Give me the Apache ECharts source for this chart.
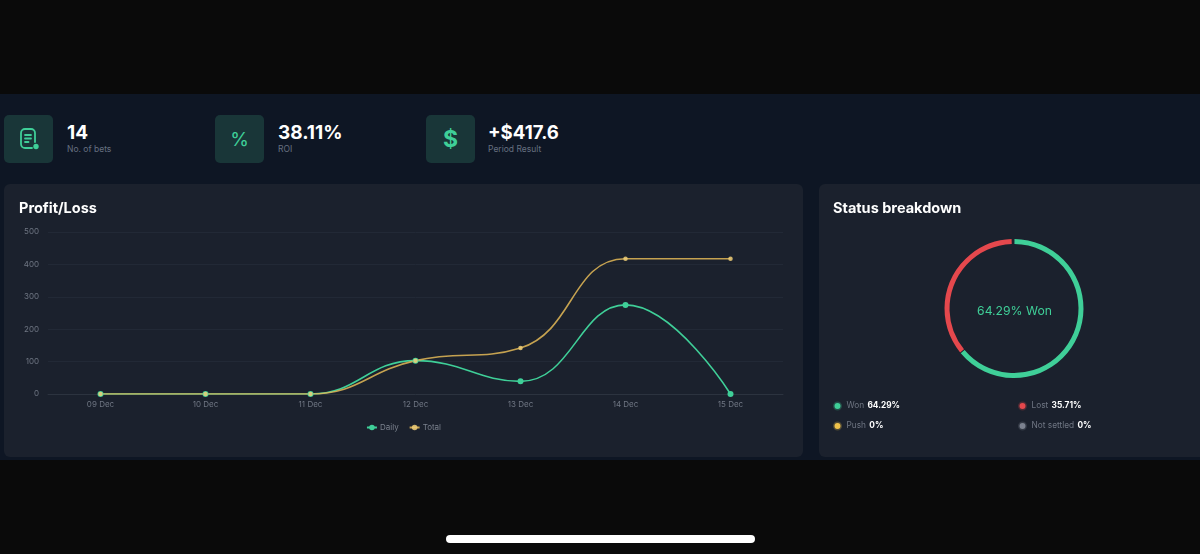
<!DOCTYPE html>
<html>
<head>
<meta charset="utf-8">
<title>Profit/Loss</title>
<script src="https://cdn.jsdelivr.net/npm/echarts@6/dist/echarts.min.js"></script>
<style>
html, body { margin: 0; padding: 0; width: 1200px; height: 554px; overflow: hidden; background: #0a0a0a; font-family: Inter, "Noto Sans", sans-serif; }
.band { position: absolute; left: 0; top: 94px; width: 1200px; height: 366px; background: #0e1624; }
.card { position: absolute; top: 184px; height: 273px; background: #1b212d; border-radius: 6px; }
.card h2 { position: absolute; left: 15px; top: 14px; margin: 0; font-size: 14.5px; line-height: 20px; font-weight: 700; color: #fff; z-index: 2; }
.chart { position: absolute; left: 0; top: 0; width: 100%; height: 100%; }
.tile { position: absolute; top: 115px; width: 49px; height: 48px; background: #193638; border-radius: 5px; color: #3fcf98; display: flex; align-items: center; justify-content: center; }
.kpi { position: absolute; top: 122px; color: #fff; font-weight: 700; font-size: 19px; line-height: 21px; }
.kpi small { display: block; font-weight: 400; font-size: 8.5px; line-height: 11px; margin-top: 0.5px; color: #667080; }
.home { position: absolute; left: 446px; top: 535px; width: 309px; height: 8px; border-radius: 4px; background: #fff; }
</style>
</head>
<body>
<div class="band"></div>

<div class="tile" style="left:4px">
  <svg width="22" height="24" viewBox="0 0 22 24" fill="none" stroke="#3fcf98" stroke-width="1.8" stroke-linecap="round">
    <path d="M14 21H7a4 4 0 0 1-4-4V6a4 4 0 0 1 4-4h6a4 4 0 0 1 4 4v9"/>
    <path d="M7 8h6M7 11.500h6M7 15h3.500"/>
    <circle cx="18" cy="19.500" r="2.700" fill="#3fcf98" stroke="none"/>
  </svg>
</div>
<div class="kpi" style="left:67px">14<small>No. of bets</small></div>

<div class="tile" style="left:215px;font-size:19px;font-weight:400">%</div>
<div class="kpi" style="left:278px">38.11%<small>ROI</small></div>

<div class="tile" style="left:426px;font-size:23px;font-weight:700">$</div>
<div class="kpi" style="left:488px;font-size:18.6px">+$417.6<small>Period Result</small></div>

<div class="card" style="left:4px;width:799px"><h2>Profit/Loss</h2><div id="lineChart" class="chart"></div></div>
<div class="card" style="left:819px;width:381px;border-radius:6px 0 0 6px"><h2 style="left:14px">Status breakdown</h2><div id="pieChart" class="chart"></div></div>
<div class="home"></div>

<script>
var days = ['09 Dec', '10 Dec', '11 Dec', '12 Dec', '13 Dec', '14 Dec', '15 Dec'];
var daily = [0, 0, 0, 103, 39, 275, 0];
var total = [0, 0, 0, 103, 142, 417.6, 417.6];

var statusNames = ['Won', 'Lost', 'Push', 'Not settled'];
var statusValues = [64.29, 35.71, 0, 0];
var statusColors = ['#3fcf98', '#e5484d', '#f0c24b', '#7c8290'];
var statusHalos = ['rgba(63,207,152,0.25)', 'rgba(229,72,77,0.25)', 'rgba(240,194,75,0.25)', 'rgba(124,130,144,0.25)'];

var font = 'Inter, "Noto Sans", sans-serif';

var lineChart = echarts.init(document.getElementById('lineChart'));
lineChart.setOption({
	animation: false,
	grid: { left: 44, right: 20, top: 48, bottom: 63 },
	legend: {
		top: 234.500,
		left: 'center',
		itemWidth: 10,
		itemHeight: 7,
		itemGap: 10,
		textStyle: { color: '#7a818d', fontSize: 8, fontFamily: font, padding: [0, 0, 0, -2] },
		data: ['Daily', 'Total']
	},
	xAxis: {
		type: 'category',
		data: days,
		axisTick: { show: false },
		axisLine: { lineStyle: { color: '#2c333f', width: 1 } },
		axisLabel: { color: '#6f7683', fontSize: 8, fontFamily: font, margin: 7 }
	},
	yAxis: {
		type: 'value',
		min: 0,
		max: 500,
		interval: 100,
		axisLine: { show: false },
		axisTick: { show: false },
		splitLine: { lineStyle: { color: '#222936', width: 1 } },
		axisLabel: { color: '#6f7683', fontSize: 8, fontFamily: font, margin: 9 }
	},
	series: [{
		name: 'Daily',
		type: 'line',
		data: daily,
		smooth: 0.45,
		symbol: 'circle',
		symbolSize: 6,
		lineStyle: { color: '#3fcf98', width: 1.600 },
		itemStyle: { color: '#3fcf98' }
	}, {
		name: 'Total',
		type: 'line',
		data: total,
		smooth: 0.45,
		symbol: 'circle',
		symbolSize: 4.500,
		lineStyle: { color: '#e3b857', width: 1.600, opacity: 0.85 },
		itemStyle: { color: '#f0cf78', opacity: 0.85 }
	}]
});

var pieData = [];
for (var i = 0; i < statusNames.length; i++) {
	pieData.push({ name: statusNames[i], value: statusValues[i], itemStyle: { color: statusColors[i] } });
}

// one legend per status so the two columns line up with the picture
var legendSpots = [[9, 211], [194, 211], [9, 231], [194, 231]];
var legends = [];
for (var j = 0; j < statusNames.length; j++) {
	legends.push({
		left: legendSpots[j][0],
		top: legendSpots[j][1],
		data: [statusNames[j]],
		icon: 'circle',
		itemWidth: 6,
		itemHeight: 6,
		itemGap: 0,
		selectedMode: false,
		itemStyle: { borderColor: statusHalos[j], borderWidth: 3 },
		formatter: function (name) {
			return '{n|' + name + '} {v|' + statusValues[statusNames.indexOf(name)] + '%}';
		},
		textStyle: {
			padding: [0, 0, 0, 1],
			rich: {
				n: { color: '#6f7683', fontSize: 8.300, fontFamily: font },
				v: { color: '#ffffff', fontSize: 8.300, fontWeight: 700, fontFamily: font }
			}
		}
	});
}

var pieChart = echarts.init(document.getElementById('pieChart'));
pieChart.setOption({
	animation: false,
	legend: legends,
	title: {
		text: statusValues[0] + '% ' + statusNames[0],
		left: 190.500,
		top: 122.500,
		textAlign: 'center',
		textVerticalAlign: 'middle',
		textStyle: { color: '#3fcf98', fontSize: 12.200, fontWeight: 400, fontFamily: font }
	},
	series: [{
		type: 'pie',
		center: [195, 124.500],
		radius: [64.500, 69.500],
		startAngle: 90,
		clockwise: true,
		padAngle: 0.800,
		label: { show: false },
		labelLine: { show: false },
		data: pieData
	}]
});
</script>
</body>
</html>
